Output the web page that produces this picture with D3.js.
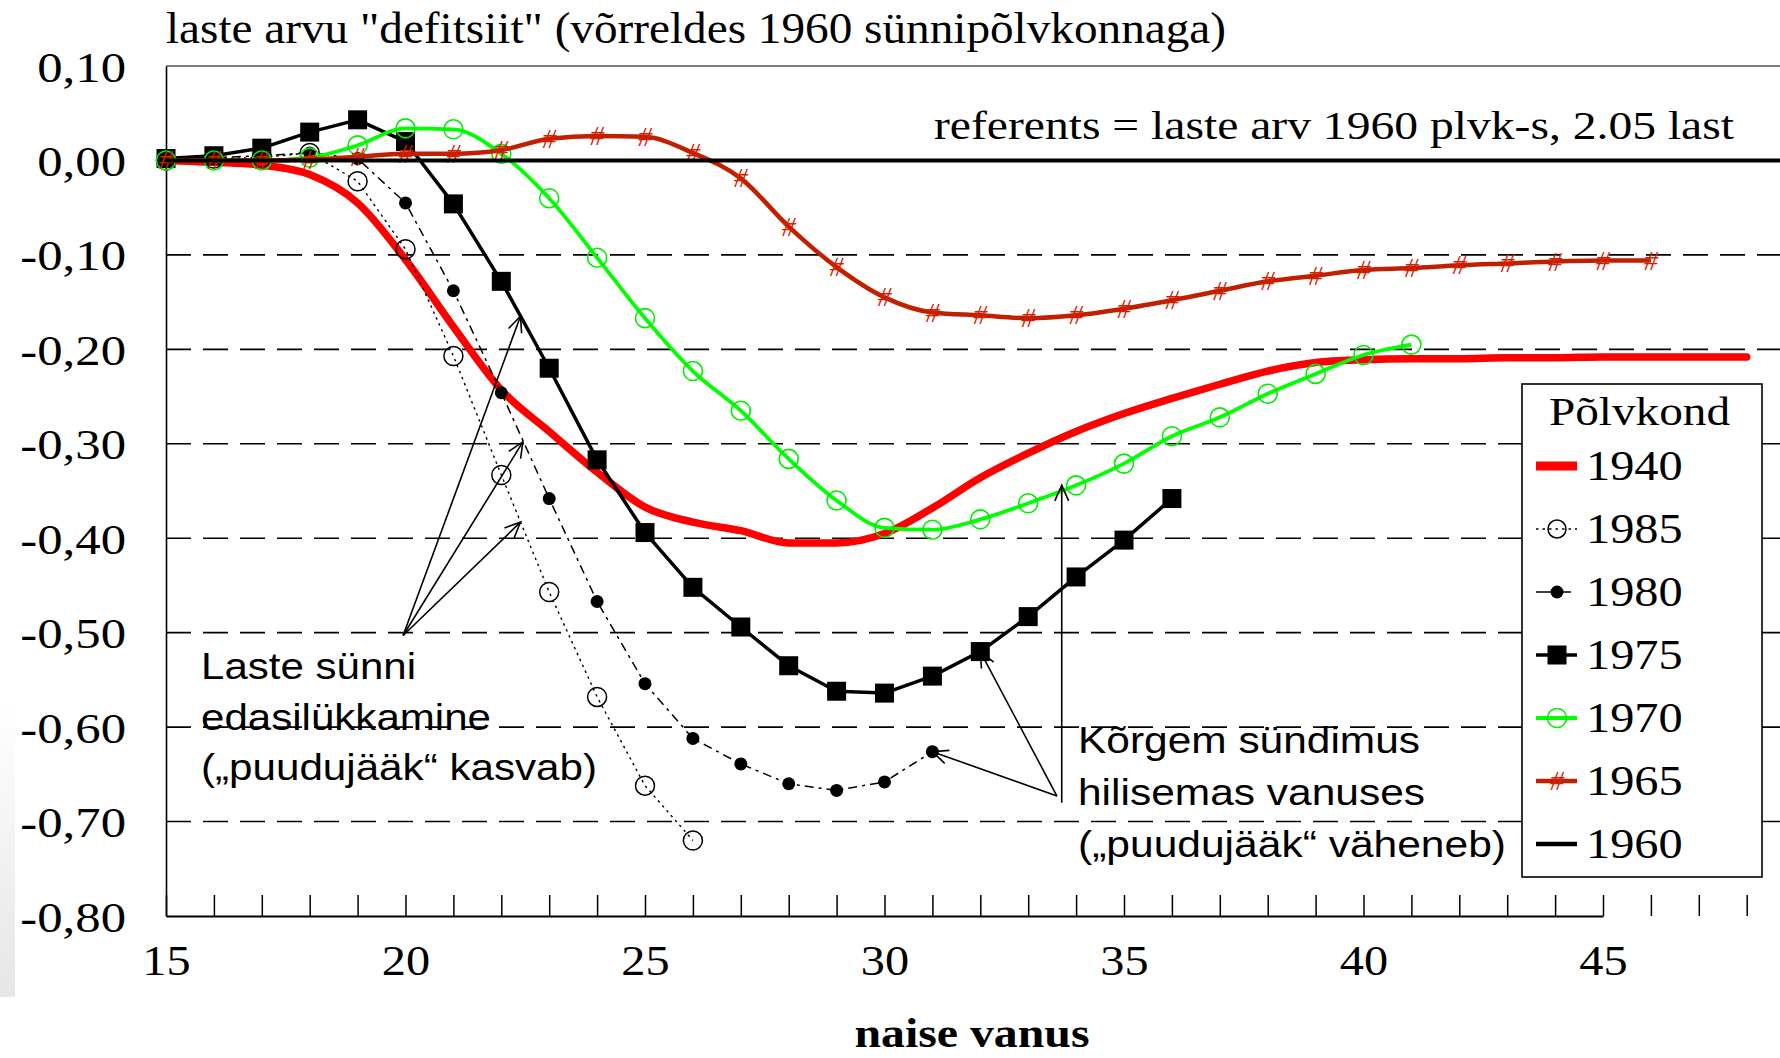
<!DOCTYPE html>
<html><head><meta charset="utf-8">
<script src="https://cdn.jsdelivr.net/npm/d3@7"></script>
<style>body{margin:0;background:#fff}svg{display:block}</style>
</head><body>
<svg id="c" width="1780" height="1058"></svg>
<script>
// ---------- data ----------
const titleText = 'laste arvu "defitsiit" (võrreldes 1960 sünnipõlvkonnaga)';
const refText = 'referents = laste arv 1960 plvk-s, 2.05 last';
const xAxisTitle = 'naise vanus';
const legendTitle = 'Põlvkond';
const xTickLabels = [15, 20, 25, 30, 35, 40, 45];
const xAllTicks = [15,16,17,18,19,20,21,22,23,24,25,26,27,28,29,30,31,32,33,34,35,36,37,38,39,40,41,42,43,44,45,46,47,48,49];
const yTicks = [0.1, 0, -0.1, -0.2, -0.3, -0.4, -0.5, -0.6, -0.7, -0.8];
const yTickLabels = ["0,10","0,00","-0,10","-0,20","-0,30","-0,40","-0,50","-0,60","-0,70","-0,80"];
const gridValues = [-0.1, -0.2, -0.3, -0.4, -0.5, -0.6, -0.7];
const cohorts = ["1940","1985","1980","1975","1970","1965","1960"];

const ages1940 = [15,16,17,18,19,20,21,22,23,24,25,26,27,28,29,30,31,32,33,34,35,36,37,38,39,40,41,42,43,44,45,46,47,48];
const vals1940 = [0,-0.002,-0.005,-0.015,-0.045,-0.105,-0.176,-0.243,-0.287,-0.33,-0.367,-0.383,-0.392,-0.405,-0.405,-0.395,-0.368,-0.336,-0.31,-0.287,-0.268,-0.252,-0.237,-0.223,-0.214,-0.211,-0.21,-0.21,-0.209,-0.209,-0.208,-0.208,-0.208,-0.208];

const ages1985 = [15,16,17,18,19,20,21,22,23,24,25,26];
const vals1985 = [0,0.002,0.003,0.008,-0.022,-0.094,-0.207,-0.333,-0.457,-0.568,-0.662,-0.72];

const ages1980 = [15,16,17,18,19,20,21,22,23,24,25,26,27,28,29,30,31];
const vals1980 = [0,0.003,0.005,0.008,0.002,-0.045,-0.138,-0.246,-0.358,-0.467,-0.554,-0.612,-0.639,-0.66,-0.667,-0.658,-0.626];

const ages1975 = [15,16,17,18,19,20,21,22,23,24,25,26,27,28,29,30,31,32,33,34,35,36];
const vals1975 = [0.002,0.005,0.013,0.03,0.043,0.02,-0.046,-0.128,-0.22,-0.317,-0.394,-0.452,-0.494,-0.535,-0.562,-0.564,-0.546,-0.52,-0.483,-0.441,-0.402,-0.358];

const ages1970 = [15,16,17,18,19,20,21,22,23,24,25,26,27,28,29,30,31,32,33,34,35,36,37,38,39,40,41];
const vals1970 = [0,0,0,0.003,0.016,0.034,0.033,0.007,-0.04,-0.103,-0.167,-0.223,-0.265,-0.316,-0.36,-0.389,-0.391,-0.38,-0.363,-0.344,-0.321,-0.292,-0.272,-0.247,-0.226,-0.206,-0.195];

const ages1965 = [15,16,17,18,19,20,21,22,23,24,25,26,27,28,29,30,31,32,33,34,35,36,37,38,39,40,41,42,43,44,45,46];
const vals1965 = [0,0,0,0.001,0.004,0.007,0.007,0.011,0.023,0.026,0.025,0.008,-0.019,-0.07,-0.113,-0.145,-0.161,-0.164,-0.167,-0.164,-0.157,-0.148,-0.138,-0.128,-0.122,-0.116,-0.114,-0.111,-0.109,-0.107,-0.106,-0.106];

const ages1960 = [15, 50];
const vals1960 = [0, 0];

const noteLeft = ["Laste sünni", "edasilükkamine", "(„puudujääk“ kasvab)"];
const noteRight = ["Kõrgem sündimus", "hilisemas vanuses", "(„puudujääk“ väheneb)"];
// arrow anchors in data units [age, value]
const leftArrowFrom = [19.95, -0.503];
const leftArrowTo = [[22.4, -0.165], [22.45, -0.298], [22.4, -0.383]];
const rightArrowFrom = [33.6, -0.673];
const rightArrowTo = [[32, -0.52], [31, -0.626]];
const rightVertical = [[33.7, -0.68], [33.7, -0.344]];

// ---------- drawing ----------
const svg = d3.select("#c");
const SERIF = "'Liberation Serif','Times New Roman',serif";
const SANS = "'Liberation Sans',Arial,sans-serif";
const x = d3.scaleLinear().domain([15, 45]).range([166, 1603]);
const y = d3.scaleLinear().domain([0.1, -0.8]).range([66, 916]);
const X0 = 166, XR = 1780;

function stretch(sel, k) {
  sel.each(function () {
    const w = this.getComputedTextLength();
    this.setAttribute("textLength", w * k);
    this.setAttribute("lengthAdjust", "spacingAndGlyphs");
  });
}

// left gray strip (background artefact)
const defs = svg.append("defs");
const gr = defs.append("linearGradient").attr("id", "gs").attr("x1", 0).attr("y1", 0).attr("x2", 0).attr("y2", 1);
gr.append("stop").attr("offset", "0").attr("stop-color", "#ffffff");
gr.append("stop").attr("offset", "1").attr("stop-color", "#e4e7e4");
svg.append("rect").attr("x", 0).attr("y", 700).attr("width", 15).attr("height", 297).attr("fill", "url(#gs)");

// title
svg.append("text").attr("x", 166).attr("y", 43).attr("font-family", SERIF).attr("font-size", 44)
  .attr("textLength", 1060).attr("lengthAdjust", "spacingAndGlyphs").text(titleText);

// top frame line
svg.append("line").attr("x1", X0).attr("x2", XR).attr("y1", y(0.1)).attr("y2", y(0.1))
  .attr("stroke", "#555").attr("stroke-width", 1.5);

// dashed grid
svg.append("g").selectAll("line").data(gridValues).join("line")
  .attr("x1", X0).attr("x2", XR).attr("y1", d => y(d)).attr("y2", d => y(d))
  .attr("stroke", "#000").attr("stroke-width", 1.6).attr("stroke-dasharray", "25,12");

// y axis
const gy = svg.append("g").attr("transform", `translate(${X0},0)`)
  .call(d3.axisLeft(y).tickValues(yTicks).tickSize(0).tickSizeOuter(0).tickPadding(40)
    .tickFormat((d, i) => yTickLabels[i]));
gy.select(".domain").attr("stroke", "#000").attr("stroke-width", 1.6);
gy.selectAll("text").attr("font-family", SERIF).attr("font-size", 43).attr("fill", "#000").attr("dy", "0.35em");
stretch(gy.selectAll("text"), 1.18);

// x axis
const gx = svg.append("g").attr("transform", `translate(0,${y(-0.8)})`)
  .call(d3.axisBottom(x).tickValues(xAllTicks).tickSize(-21).tickSizeOuter(0).tickPadding(29)
    .tickFormat(d => xTickLabels.includes(d) ? String(d) : ""));
gx.select(".domain").attr("stroke", "#000").attr("stroke-width", 2.2);
gx.selectAll(".tick line").attr("stroke", "#000").attr("stroke-width", 1.5);
gx.selectAll("text").attr("font-family", SERIF).attr("font-size", 42).attr("fill", "#000");
stretch(gx.selectAll("text").filter(function () { return this.textContent !== ""; }), 1.15);

// x axis title
svg.append("text").attr("x", 972).attr("y", 1047).attr("text-anchor", "middle")
  .attr("font-family", SERIF).attr("font-size", 42).attr("font-weight", "bold")
  .attr("textLength", 235).attr("lengthAdjust", "spacingAndGlyphs").text(xAxisTitle);

// referents text
svg.append("text").attr("x", 934).attr("y", 139).attr("font-family", SERIF).attr("font-size", 41)
  .attr("textLength", 800).attr("lengthAdjust", "spacingAndGlyphs").text(refText);

const zip = (a, b) => a.map((v, i) => [v, b[i]]);
const lineLin = d3.line().x(d => x(d[0])).y(d => y(d[1]));
const lineSmooth = d3.line().x(d => x(d[0])).y(d => y(d[1])).curve(d3.curveMonotoneX);

const s1940 = zip(ages1940, vals1940), s1985 = zip(ages1985, vals1985), s1980 = zip(ages1980, vals1980),
      s1975 = zip(ages1975, vals1975), s1970 = zip(ages1970, vals1970), s1965 = zip(ages1965, vals1965),
      s1960 = zip(ages1960, vals1960);

const plot = svg.append("g");
// 1940
plot.append("path").attr("d", lineSmooth(s1940)).attr("fill", "none").attr("stroke", "#ff0000")
  .attr("stroke-width", 7.5).attr("stroke-linejoin", "round").attr("stroke-linecap", "round");
// 1985
plot.append("path").attr("d", lineLin(s1985)).attr("fill", "none").attr("stroke", "#000")
  .attr("stroke-width", 1.4).attr("stroke-dasharray", "2.5,4");
plot.append("g").selectAll("circle").data(s1985).join("circle")
  .attr("cx", d => x(d[0])).attr("cy", d => y(d[1])).attr("r", 9.5)
  .attr("fill", "none").attr("stroke", "#000").attr("stroke-width", 1.5);
// 1980
plot.append("path").attr("d", lineLin(s1980)).attr("fill", "none").attr("stroke", "#000")
  .attr("stroke-width", 1.5).attr("stroke-dasharray", "9,5,3,5");
plot.append("g").selectAll("circle").data(s1980).join("circle")
  .attr("cx", d => x(d[0])).attr("cy", d => y(d[1])).attr("r", 6.5).attr("fill", "#000");
// 1975
plot.append("path").attr("d", lineLin(s1975)).attr("fill", "none").attr("stroke", "#000")
  .attr("stroke-width", 3.5).attr("stroke-linejoin", "round");
plot.append("g").selectAll("rect").data(s1975).join("rect")
  .attr("x", d => x(d[0]) - 9.5).attr("y", d => y(d[1]) - 9.5).attr("width", 19).attr("height", 19).attr("fill", "#000");
// 1970
plot.append("path").attr("d", lineSmooth(s1970)).attr("fill", "none").attr("stroke", "#00ff00")
  .attr("stroke-width", 3.8).attr("stroke-linejoin", "round");
plot.append("g").selectAll("circle").data(s1970).join("circle")
  .attr("cx", d => x(d[0])).attr("cy", d => y(d[1])).attr("r", 9.5)
  .attr("fill", "none").attr("stroke", "#00ee00").attr("stroke-width", 1.6);
// 1965
plot.append("path").attr("d", lineSmooth(s1965)).attr("fill", "none").attr("stroke", "#c02000")
  .attr("stroke-width", 4.5).attr("stroke-linejoin", "round");
plot.append("g").selectAll("text").data(s1965).join("text")
  .attr("x", d => x(d[0])).attr("y", d => y(d[1]) + 9).attr("text-anchor", "middle")
  .attr("font-family", SERIF).attr("font-style", "italic").attr("font-size", 28)
  .attr("fill", "#d82000").text("#");
// 1960
plot.append("path").attr("d", lineLin(s1960)).attr("fill", "none").attr("stroke", "#000").attr("stroke-width", 4);

// annotations
function arrow(g, p0, p1, head) {
  const [x0, y0] = [x(p0[0]), y(p0[1])], [x1, y1] = [x(p1[0]), y(p1[1])];
  g.append("line").attr("x1", x0).attr("y1", y0).attr("x2", x1).attr("y2", y1);
  if (head) {
    const a = Math.atan2(y1 - y0, x1 - x0), L = 17, t = 0.42;
    const p = [[x1 - L * Math.cos(a - t), y1 - L * Math.sin(a - t)], [x1, y1], [x1 - L * Math.cos(a + t), y1 - L * Math.sin(a + t)]];
    g.append("polyline").attr("points", p.map(q => q.join(",")).join(" ")).attr("fill", "none");
  }
}
const ann = svg.append("g").attr("stroke", "#000").attr("stroke-width", 1.6);
leftArrowTo.forEach(t => arrow(ann, leftArrowFrom, t, true));
rightArrowTo.forEach(t => arrow(ann, rightArrowFrom, t, true));
arrow(ann, rightVertical[0], rightVertical[1], true);

const leftW = [215, 290, 396], rightW = [342, 347, 428];
svg.append("g").selectAll("text").data(noteLeft).join("text")
  .attr("x", 201).attr("y", (d, i) => 679 + i * 50.5)
  .attr("font-family", SANS).attr("font-size", 37).attr("fill", "#000")
  .attr("textLength", (d, i) => leftW[i]).attr("lengthAdjust", "spacingAndGlyphs").text(d => d);
svg.append("g").selectAll("text").data(noteRight).join("text")
  .attr("x", 1078).attr("y", (d, i) => 753 + i * 52)
  .attr("font-family", SANS).attr("font-size", 37).attr("fill", "#000")
  .attr("textLength", (d, i) => rightW[i]).attr("lengthAdjust", "spacingAndGlyphs").text(d => d);

// legend
const lg = svg.append("g");
lg.append("rect").attr("x", 1522).attr("y", 384).attr("width", 240).attr("height", 493)
  .attr("fill", "#fff").attr("stroke", "#000").attr("stroke-width", 1.6);
lg.append("text").attr("x", 1549).attr("y", 425).attr("font-family", SERIF).attr("font-size", 40)
  .attr("textLength", 181).attr("lengthAdjust", "spacingAndGlyphs").text(legendTitle);
const items = lg.selectAll("g.it").data(cohorts).join("g").attr("class", "it")
  .attr("transform", (d, i) => `translate(0,${480 + i * 63})`);
const lt = items.append("text").attr("x", 1586).attr("y", 0).attr("font-family", SERIF).attr("font-size", 42).text(d => d);
stretch(lt, 1.15);
const sx1 = 1536, sx2 = 1577, sc = 1557, sy = -14;
items.each(function (d) {
  const g = d3.select(this);
  if (d === "1940") g.append("line").attr("x1", sx1).attr("x2", sx2).attr("y1", sy).attr("y2", sy).attr("stroke", "#ff0000").attr("stroke-width", 9);
  if (d === "1985") {
    g.append("line").attr("x1", sx1).attr("x2", sx2).attr("y1", sy).attr("y2", sy).attr("stroke", "#000").attr("stroke-width", 1.4).attr("stroke-dasharray", "2.5,4");
    g.append("circle").attr("cx", sc).attr("cy", sy).attr("r", 9).attr("fill", "none").attr("stroke", "#000").attr("stroke-width", 1.5);
  }
  if (d === "1980") {
    g.append("line").attr("x1", sx1).attr("x2", sx2 - 6).attr("y1", sy).attr("y2", sy).attr("stroke", "#000").attr("stroke-width", 1.5);
    g.append("circle").attr("cx", sc).attr("cy", sy).attr("r", 6.5).attr("fill", "#000");
  }
  if (d === "1975") {
    g.append("line").attr("x1", sx1).attr("x2", sx2).attr("y1", sy).attr("y2", sy).attr("stroke", "#000").attr("stroke-width", 3.5);
    g.append("rect").attr("x", sc - 9.5).attr("y", sy - 9.5).attr("width", 19).attr("height", 19).attr("fill", "#000");
  }
  if (d === "1970") {
    g.append("line").attr("x1", sx1).attr("x2", sx2).attr("y1", sy).attr("y2", sy).attr("stroke", "#00ff00").attr("stroke-width", 3.8);
    g.append("circle").attr("cx", sc).attr("cy", sy).attr("r", 9.5).attr("fill", "none").attr("stroke", "#00ee00").attr("stroke-width", 1.6);
  }
  if (d === "1965") {
    g.append("line").attr("x1", sx1).attr("x2", sx2).attr("y1", sy).attr("y2", sy).attr("stroke", "#c02000").attr("stroke-width", 4.5);
    g.append("text").attr("x", sc).attr("y", sy + 9).attr("text-anchor", "middle").attr("font-family", SERIF)
      .attr("font-style", "italic").attr("font-size", 28).attr("fill", "#d82000").text("#");
  }
  if (d === "1960") g.append("line").attr("x1", sx1).attr("x2", sx2).attr("y1", sy).attr("y2", sy).attr("stroke", "#000").attr("stroke-width", 4.5);
});
</script>
</body></html>
